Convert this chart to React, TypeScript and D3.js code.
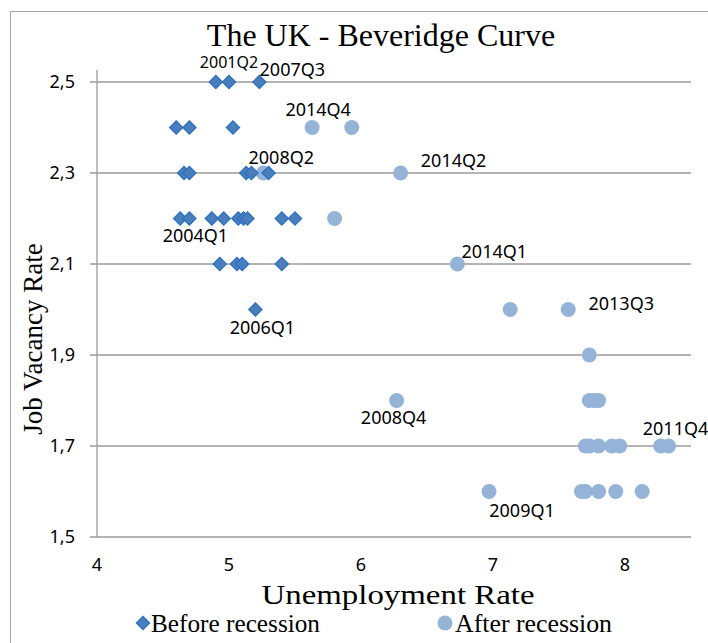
import { useMemo } from "react";
import * as d3 from "d3";

const WIDTH = 708;
const HEIGHT = 643;

// Before recession (diamonds)
const beforeX = [
    4.9, 5.0, 5.23,
    4.6, 4.7, 5.03,
    4.66, 4.7, 5.13, 5.17, 5.3,
    4.63, 4.7, 4.87, 4.96, 5.07, 5.11, 5.14, 5.4, 5.5,
    4.93, 5.06, 5.1, 5.4,
    5.2,
];
const beforeY = [
    2.5, 2.5, 2.5,
    2.4, 2.4, 2.4,
    2.3, 2.3, 2.3, 2.3, 2.3,
    2.2, 2.2, 2.2, 2.2, 2.2, 2.2, 2.2, 2.2, 2.2,
    2.1, 2.1, 2.1, 2.1,
    2.0,
];

// After recession (circles)
const afterX = [
    5.63, 5.93,
    5.26, 6.3,
    5.8,
    6.73,
    7.13, 7.57,
    7.73,
    6.27, 7.73, 7.77, 7.8,
    7.7, 7.73, 7.8, 7.9, 7.96, 8.27, 8.33,
    6.97, 7.67, 7.7, 7.8, 7.93, 8.13,
];
const afterY = [
    2.4, 2.4,
    2.3, 2.3,
    2.2,
    2.1,
    2.0, 2.0,
    1.9,
    1.8, 1.8, 1.8, 1.8,
    1.7, 1.7, 1.7, 1.7, 1.7, 1.7, 1.7,
    1.6, 1.6, 1.6, 1.6, 1.6, 1.6,
];

// quarter labels: text, series, index of point in that series
const labelText = ["2001Q2", "2007Q3", "2004Q1", "2006Q1", "2014Q4", "2008Q2", "2014Q2", "2014Q1", "2013Q3", "2008Q4", "2011Q4", "2009Q1"];
const labelSeries = ["before", "before", "before", "before", "after", "after", "after", "after", "after", "after", "after", "after"];
const labelIndex = [1, 2, 12, 24, 0, 2, 3, 5, 7, 9, 19, 20];

const X_TICKS = [4, 5, 6, 7, 8];
const Y_TICKS = [1.5, 1.7, 1.9, 2.1, 2.3, 2.5];

// pixel offsets of each label from its point (label centre)
const LABEL_OFFSETS: [number, number][] = [
    [0, -20], [33, -12], [6, 17], [7, 18], [6, -18], [18, -15],
    [53, -12], [37, -12], [53, -6], [-3, 17], [7, -17], [33, 19],
];

const MARGIN = { top: 82, right: 17, bottom: 106, left: 97 };

const fmt = d3.formatLocale({ decimal: ",", thousands: ".", grouping: [3], currency: ["", ""] }).format(".1f");

const SERIF = '"Liberation Serif", "DejaVu Serif", serif';
const SANS = '"Noto Sans", "Open Sans", sans-serif';

const DIAMOND_FILL = "#4a7ebb";
const DIAMOND_STROKE = "#2a70c2";
const CIRCLE_FILL = "#95b3d7";
const GRID = "#9b9b9b";

export default function App() {
    const xScale = useMemo(
        () => d3.scaleLinear().domain([4, 8.5]).range([MARGIN.left, WIDTH - MARGIN.right]),
        []
    );
    const yScale = useMemo(
        () => d3.scaleLinear().domain([1.5, 2.5]).range([HEIGHT - MARGIN.bottom, MARGIN.top]),
        []
    );

    const diamond = d3.symbol(d3.symbolSquare, 88)() as string;

    const before = beforeX.map((x, i) => ({ x, y: beforeY[i] }));
    const after = afterX.map((x, i) => ({ x, y: afterY[i] }));

    const x0 = xScale(4);
    const x1 = xScale(8.5);
    const yBottom = yScale(1.5);

    return (
        <svg width={WIDTH} height={HEIGHT} style={{ position: "absolute", left: 0, top: 0, background: "#fff" }}>
            {/* outer chart border */}
            <rect x={10.5} y={11.5} width={760} height={700} fill="none" stroke="#a6a6a6" />

            <text x={381} y={46} textAnchor="middle" fontFamily={SERIF} fontSize={32} fill="#000">
                The UK - Beveridge Curve
            </text>

            {/* gridlines + y ticks */}
            {Y_TICKS.map((t) => (
                <g key={t}>
                    <line x1={x0 - 7} x2={x1} y1={yScale(t)} y2={yScale(t)} stroke={GRID} strokeWidth={1.3} />
                    <text x={75} y={yScale(t)} dy="0.35em" textAnchor="end" fontFamily={SANS} fontSize={18} fill="#000">
                        {fmt(t)}
                    </text>
                </g>
            ))}
            <line x1={x0} x2={x0} y1={70} y2={yBottom} stroke={GRID} strokeWidth={1.3} />

            {X_TICKS.map((t) => (
                <text key={t} x={xScale(t)} y={565} dy="0.35em" textAnchor="middle" fontFamily={SANS} fontSize={18} fill="#000">
                    {t}
                </text>
            ))}

            <text
                x={398}
                y={604}
                textAnchor="middle"
                fontFamily={SERIF}
                fontSize={28}
                textLength={273}
                lengthAdjust="spacingAndGlyphs"
                fill="#000"
            >
                Unemployment Rate
            </text>
            <text
                transform={`translate(42, 339) rotate(-90)`}
                textAnchor="middle"
                fontFamily={SERIF}
                fontSize={27}
                fill="#000"
            >
                Job Vacancy Rate
            </text>

            {/* after recession circles */}
            {after.map((d, i) => (
                <circle key={"a" + i} cx={xScale(d.x)} cy={yScale(d.y)} r={7.5} fill={CIRCLE_FILL} />
            ))}
            {/* before recession diamonds */}
            {before.map((d, i) => (
                <path
                    key={"b" + i}
                    d={diamond}
                    transform={`translate(${xScale(d.x)}, ${yScale(d.y)}) rotate(45)`}
                    fill={DIAMOND_FILL}
                    stroke={DIAMOND_STROKE}
                    strokeWidth={1.2}
                />
            ))}

            {/* data labels */}
            {labelText.map((txt, i) => {
                const p = labelSeries[i] === "before" ? before[labelIndex[i]] : after[labelIndex[i]];
                const [dx, dy] = LABEL_OFFSETS[i];
                return (
                    <text
                        key={txt}
                        x={xScale(p.x) + dx}
                        y={yScale(p.y) + dy}
                        dy="0.35em"
                        textAnchor="middle"
                        fontFamily={SANS}
                        fontSize={i === 0 ? 16 : 18}
                        fill="#000"
                    >
                        {txt}
                    </text>
                );
            })}

            {/* legend */}
            <path d={diamond} transform="translate(143, 623) rotate(45)" fill={DIAMOND_FILL} stroke={DIAMOND_STROKE} strokeWidth={1.2} />
            <text x={151} y={632} fontFamily={SERIF} fontSize={25} textLength={169} lengthAdjust="spacingAndGlyphs" fill="#000">
                Before recession
            </text>
            <circle cx={445} cy={623} r={7.5} fill={CIRCLE_FILL} />
            <text x={455} y={632} fontFamily={SERIF} fontSize={25} textLength={157} lengthAdjust="spacingAndGlyphs" fill="#000">
                After recession
            </text>
        </svg>
    );
}
